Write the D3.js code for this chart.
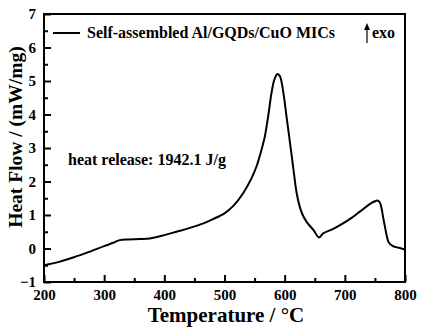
<!DOCTYPE html>
<html>
<head>
<meta charset="utf-8">
<script src="https://cdn.jsdelivr.net/npm/d3@7"></script>
<style>
  body { margin: 0; background: #fff; }
  text { font-family: "Liberation Serif", "Times New Roman", serif; font-weight: bold; fill: #000; }
</style>
</head>
<body>
<div id="chart"></div>
<script>
// DSC curve (temperature in °C, heat flow in mW/mg)
var temps = [200, 225, 250, 275, 300, 315, 326, 340, 360, 376, 400, 420, 440, 465, 480, 500, 515, 531, 545, 553,
             560, 567, 573, 578, 583, 588, 592, 598, 603, 609, 615, 620, 625, 630, 637, 648, 657, 664, 680, 697,
             710, 725, 742, 750, 754, 758, 761, 764, 767, 770, 773, 780, 790, 800];
var heatFlow = [-0.50, -0.40, -0.26, -0.10, 0.07, 0.17, 0.25, 0.27, 0.28, 0.30, 0.40, 0.50, 0.60, 0.75, 0.87, 1.05, 1.28, 1.65, 2.10, 2.44,
                2.85, 3.34, 4.00, 4.63, 5.05, 5.21, 5.15, 4.63, 3.95, 3.14, 2.30, 1.65, 1.25, 1.00, 0.78, 0.55, 0.33, 0.45, 0.58, 0.75,
                0.90, 1.10, 1.33, 1.41, 1.43, 1.38, 1.20, 0.90, 0.62, 0.35, 0.18, 0.07, 0.02, -0.03];
var xTicks = [200, 300, 400, 500, 600, 700, 800];
var xMinor = [250, 350, 450, 550, 650, 750];
var yTicks = [-1, 0, 1, 2, 3, 4, 5, 6, 7];
var yMinor = [-0.5, 0.5, 1.5, 2.5, 3.5, 4.5, 5.5, 6.5];

var w = 421, h = 330;
var padL = 44, padR = 405, padT = 14, padB = 282;  // plot box edges

var xScale = d3.scaleLinear().domain([200, 800]).range([padL, padR]);
var yScale = d3.scaleLinear().domain([-1, 7]).range([padB, padT]);

var svg = d3.select("#chart").append("svg")
    .attr("width", w)
    .attr("height", h);

// minor ticks first (inward, short)
svg.append("g")
    .attr("transform", "translate(0," + padB + ")")
    .call(d3.axisBottom(xScale).tickValues(xMinor).tickSizeInner(-4).tickSizeOuter(0).tickFormat(""))
    .call(function(g) { g.select(".domain").remove(); })
    .selectAll("line").attr("stroke-width", 2);

svg.append("g")
    .attr("transform", "translate(" + padL + ",0)")
    .call(d3.axisLeft(yScale).tickValues(yMinor).tickSizeInner(-4).tickSizeOuter(0).tickFormat(""))
    .call(function(g) { g.select(".domain").remove(); })
    .selectAll("line").attr("stroke-width", 2);

// major ticks with labels
var xAxisG = svg.append("g")
    .attr("transform", "translate(0," + padB + ")")
    .call(d3.axisBottom(xScale).tickValues(xTicks).tickSizeInner(-7).tickSizeOuter(0).tickPadding(7));
xAxisG.select(".domain").remove();
xAxisG.selectAll("line").attr("stroke-width", 2);
xAxisG.selectAll("text").attr("font-size", "15px").attr("font-family", "Liberation Serif").attr("font-weight", "bold");

var yAxisG = svg.append("g")
    .attr("transform", "translate(" + padL + ",0)")
    .call(d3.axisLeft(yScale).tickValues(yTicks).tickSizeInner(-7).tickSizeOuter(0).tickPadding(8));
yAxisG.select(".domain").remove();
yAxisG.selectAll("line").attr("stroke-width", 2);
yAxisG.selectAll("text").attr("font-size", "15px").attr("font-family", "Liberation Serif").attr("font-weight", "bold");

// frame
svg.append("rect")
    .attr("x", padL).attr("y", padT)
    .attr("width", padR - padL).attr("height", padB - padT)
    .attr("fill", "none").attr("stroke", "#000").attr("stroke-width", 2);

// the curve
var line = d3.line()
    .x(function(d, i) { return xScale(temps[i]); })
    .y(function(d) { return yScale(d); })
    .curve(d3.curveCatmullRom.alpha(0.5));

svg.append("path")
    .datum(heatFlow)
    .attr("d", line)
    .attr("fill", "none")
    .attr("stroke", "#000")
    .attr("stroke-width", 2);

// legend
svg.append("line")
    .attr("x1", 53).attr("x2", 80).attr("y1", 33).attr("y2", 33)
    .attr("stroke", "#000").attr("stroke-width", 2);
svg.append("text")
    .attr("x", 87).attr("y", 38)
    .attr("font-size", "16px")
    .text("Self-assembled Al/GQDs/CuO MICs");

// exo arrow
svg.append("line")
    .attr("x1", 367).attr("x2", 367).attr("y1", 43).attr("y2", 27)
    .attr("stroke", "#000").attr("stroke-width", 1.2);
svg.append("path")
    .attr("d", "M364,30 L367,23 L370,30 Z")
    .attr("fill", "#000");
svg.append("text")
    .attr("x", 372).attr("y", 38)
    .attr("font-size", "16px")
    .text("exo");

// annotation
svg.append("text")
    .attr("x", 68).attr("y", 165)
    .attr("font-size", "16px")
    .text("heat release: 1942.1 J/g");

// axis titles
svg.append("text")
    .attr("text-anchor", "middle")
    .attr("x", 226).attr("y", 322)
    .attr("font-size", "21px")
    .text("Temperature / °C");

svg.append("text")
    .attr("text-anchor", "middle")
    .attr("transform", "rotate(-90)")
    .attr("x", -137).attr("y", 22)
    .attr("font-size", "19.5px")
    .text("Heat Flow / (mW/mg)");
</script>
</body>
</html>
